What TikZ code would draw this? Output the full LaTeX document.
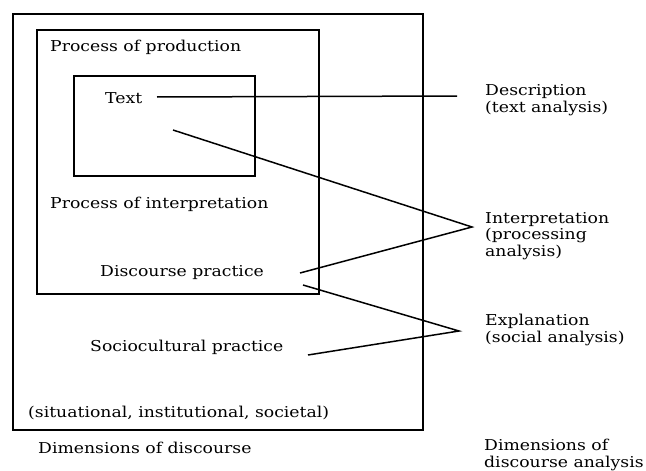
\documentclass[tikz,border=0pt]{standalone}
\usepackage{fontspec}
\setmainfont{DejaVu Serif}[FakeStretch=1.15]
\begin{document}
\begin{tikzpicture}[x=1pt, y=-1pt,
    label/.style={anchor=west, inner sep=0pt, align=left, font=\fontsize{15}{16.5}\selectfont},
    frame/.style={line width=1.4pt},
    link/.style={line width=1.5pt}]

    \useasboundingbox (0,0) rectangle (646,471);

    %% Boxes
    % Sociocultural practice
    \draw[frame] (13,14) rectangle (423,430);
    % Discourse practice
    \draw[frame] (37,30) rectangle (319,294);
    % Text
    \draw[frame] (74,76) rectangle (255,176);

    %% Labels inside the boxes
    \node[label] (prod) at (50,47) {Process of production};
    \node[label] (txt) at (105,98) {Text};
    \node[label] (interp) at (50,204) {Process of interpretation};
    \node[label] (dp) at (100,273) {Discourse practice};
    \node[label] (sc) at (90,347) {Sociocultural practice};
    \node[label] (sit) at (28,413) {(situational, institutional, societal)};
    \node[label] (dim) at (38,448) {Dimensions of discourse};

    %% Labels on the right
    \node[label] (desc) at (485,100) {Description\\(text analysis)};
    \node[label] (intlab) at (485,236) {Interpretation\\(processing\\analysis)};
    \node[label] (explab) at (485,330) {Explanation\\(social analysis)};
    \node[label] (dimana) at (484,455) {Dimensions of\\discourse analysis};

    %% Connectors
    \coordinate (txtout) at (157,97);
    \coordinate (descend) at (457,96);
    \coordinate (txtin) at (173,130);
    \coordinate (intapex) at (472,227);
    \coordinate (dpin) at (300,273);
    \coordinate (dpout) at (303,285);
    \coordinate (expapex) at (459,331);
    \coordinate (scin) at (308,355);

    % Description
    \draw[link] (txtout) -- (descend);
    % Interpretation
    \draw[link] (txtin) -- (intapex) -- (dpin);
    % Explanation
    \draw[link] (dpout) -- (expapex) -- (scin);

\end{tikzpicture}
\end{document}
